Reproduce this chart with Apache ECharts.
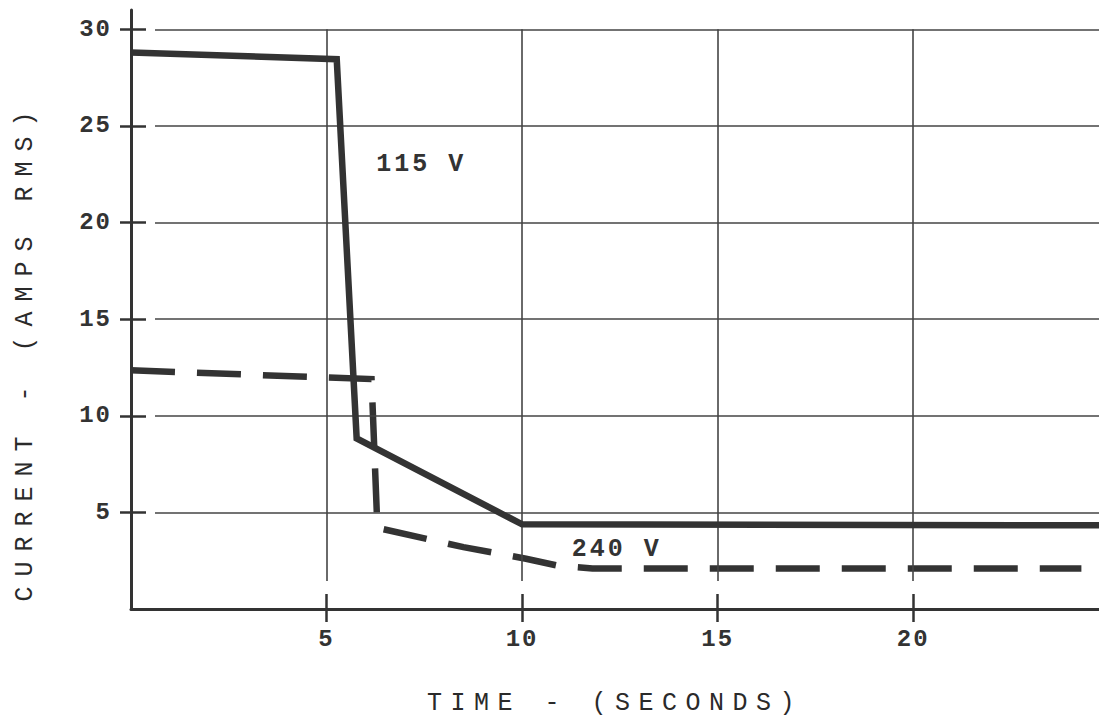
<!DOCTYPE html>
<html><head><meta charset="utf-8">
<script src="https://cdn.jsdelivr.net/npm/echarts@6/dist/echarts.min.js"></script>
<style>html,body{margin:0;padding:0;background:#fff}#chart{width:1099px;height:717px}</style>
</head><body><div id="chart"></div>
<script>
// ---- data ----
const xTicks = [5, 10, 15, 20];
const yTicks = [5, 10, 15, 20, 25, 30];
const seriesNames = ['115 V', '240 V'];
const time115 = [0, 5.26, 5.77, 10.0, 24.75];
const amps115 = [28.8, 28.45, 8.83, 4.38, 4.33];
const time240 = [0, 6.15, 6.3, 8.5, 10.1, 10.9, 11.8, 24.3];
const amps240 = [12.35, 11.9, 4.2, 3.2, 2.6, 2.25, 2.1, 2.1];
const labelTime = [7.42, 12.42];
const labelAmps = [23.0, 3.08];
const xTitle = 'TIME - (SECONDS)';
const yTitle = 'CURRENT - (AMPS RMS)';

const ink = '#333333';
const gridInk = '#454545';
const mono = '"Liberation Mono", "DejaVu Sans Mono", monospace';
const X_MAX = 24.75, Y_MAX = 31;

const pts = (xs, ys) => xs.map((x, i) => [x, ys[i]]);

const chart = echarts.init(document.getElementById('chart'), null, {renderer: 'svg'});

// inner half of the crossing ticks, and where the grid lines stop short of the axes (axis units)
const innerTickX = 15 / 19.32, innerTickY = 15 / 39.1;
const vGridStart = 28 / 19.32, hGridStart = 24 / 39.1;

chart.setOption({
  animation: false,
  backgroundColor: '#ffffff',
  grid: {left: 131, right: 0, top: 10, bottom: 108, outerBoundsMode: 'none', containLabel: false},
  xAxis: {
    type: 'value', min: 0, max: X_MAX, interval: 5,
    axisLine: {show: true, onZero: false, lineStyle: {color: ink, width: 3}},
    axisTick: {show: true, inside: false, length: 13, lineStyle: {color: ink, width: 2.5},
      customValues: xTicks},
    axisLabel: {show: true, margin: 18, color: ink, fontFamily: mono, fontSize: 24, fontWeight: 'bold',
      customValues: xTicks, formatter: v => xTicks.includes(v) ? String(v) : ''},
    splitLine: {show: false},
    name: xTitle, nameLocation: 'middle', nameGap: 82,
    nameTextStyle: {color: '#2a2a2a', fontFamily: mono, fontSize: 25}
  },
  yAxis: {
    type: 'value', min: 0, max: Y_MAX, interval: 5,
    axisLine: {show: true, onZero: false, lineStyle: {color: ink, width: 3}},
    axisTick: {show: true, inside: false, length: 11, lineStyle: {color: ink, width: 2.5},
      customValues: yTicks},
    axisLabel: {show: true, margin: 19, color: ink, fontFamily: mono, fontSize: 24, fontWeight: 'bold',
      customValues: yTicks, formatter: v => yTicks.includes(v) ? String(v) : ''},
    splitLine: {show: false},
    name: yTitle, nameLocation: 'middle', nameGap: 93, nameRotate: 90,
    nameTextStyle: {color: '#2a2a2a', fontFamily: mono, fontSize: 25, padding: [0, 84, 0, 0]}
  },
  series: [
    {
      name: 'grid', type: 'line', data: [], z: 1, silent: true,
      markLine: {
        silent: true, symbol: 'none', label: {show: false}, animation: false,
        lineStyle: {color: gridInk, width: 1.6, type: 'solid'},
        data: xTicks.map(v => [{coord: [v, vGridStart]}, {coord: [v, 30]}])
          .concat(yTicks.map(v => [{coord: [hGridStart, v]}, {coord: [X_MAX, v]}]))
      }
    },
    {
      name: 'ticks', type: 'line', data: [], z: 3, silent: true,
      markLine: {
        silent: true, symbol: 'none', label: {show: false}, animation: false,
        lineStyle: {color: ink, width: 2.5, type: 'solid'},
        data: xTicks.map(v => [{coord: [v, 0]}, {coord: [v, innerTickX]}])
          .concat(yTicks.map(v => [{coord: [0, v]}, {coord: [innerTickY, v]}]))
      }
    },
    {
      name: seriesNames[0], type: 'line', z: 5, data: pts(time115, amps115),
      symbol: 'none', smooth: false,
      lineStyle: {color: ink, width: 6.5, type: 'solid', join: 'miter', cap: 'butt'},
      label: {show: false},
      markPoint: {
        symbol: 'circle', symbolSize: 0,
        label: {show: true, formatter: seriesNames[0], color: ink, fontFamily: mono, fontSize: 25,
          fontWeight: 'bold', position: 'inside'},
        data: [{coord: [labelTime[0], labelAmps[0]]}]
      }
    },
    {
      name: seriesNames[1], type: 'line', z: 4, data: pts(time240, amps240),
      symbol: 'none', smooth: false,
      lineStyle: {color: ink, width: 6.5, type: [44, 22], join: 'miter', cap: 'butt'},
      markPoint: {
        symbol: 'circle', symbolSize: 0,
        label: {show: true, formatter: seriesNames[1], color: ink, fontFamily: mono, fontSize: 25,
          fontWeight: 'bold', position: 'inside'},
        data: [{coord: [labelTime[1], labelAmps[1]]}]
      }
    }
  ]
});

// typewriter-like spacing of the letters
const spacing = {};
spacing[xTitle] = 8.5; spacing[yTitle] = 10;
spacing[seriesNames[0]] = 3; spacing[seriesNames[1]] = 3;
function spaceLetters() {
  document.querySelectorAll('#chart svg text').forEach(t => {
    const s = spacing[t.textContent];
    t.setAttribute('letter-spacing', (s !== undefined ? s : 2) + 'px');
  });
}
spaceLetters();
chart.on('finished', spaceLetters);
</script></body></html>
